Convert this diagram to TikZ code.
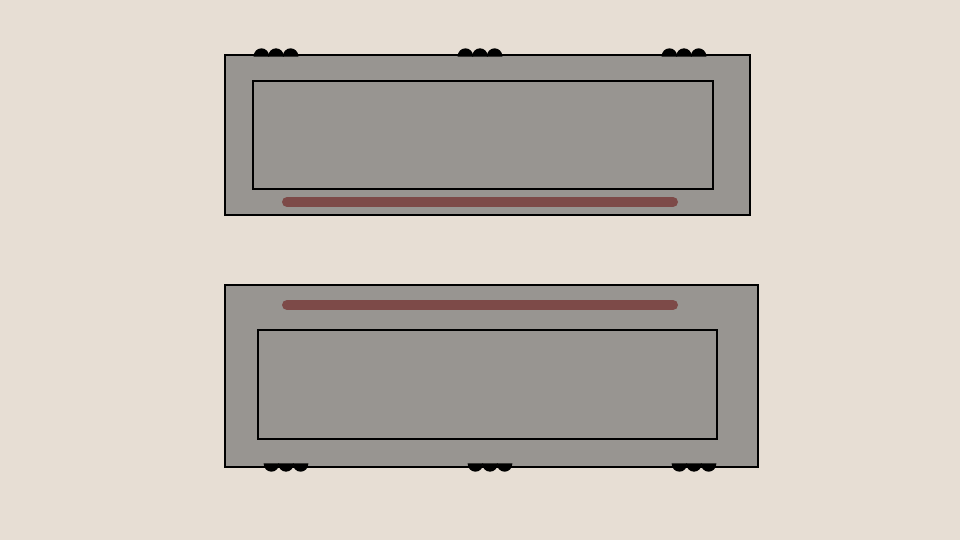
\documentclass[tikz,border=0pt]{standalone}
\usepackage{tikz}
\definecolor{bgcol}{HTML}{E7DED4}
\definecolor{trayfill}{HTML}{989591}
\definecolor{barred}{HTML}{7D4A48}
\tikzset{
  tray/.style={draw=black, fill=trayfill, line width=1.5pt},
  well/.style={draw=black, line width=1.5pt},
  bar/.style={draw=barred, line width=7.5pt, line cap=round},
  bump/.style={fill=black, draw=black, line width=1pt}
}
% three little half discs in a row
\newcommand{\bumprow}[3]{%
  \foreach \d in {-14.6,0,14.6} {
    \filldraw[bump] (#1+\d-7,#2) arc[start angle=180, end angle=#3, radius=7] -- cycle;
  }%
}

\begin{document}
\begin{tikzpicture}[x=0.75pt,y=0.75pt]
    \useasboundingbox[fill=bgcol] (0,0) rectangle (960,540);
    % upper tray
    \draw[tray] (225,485) rectangle (750,325);
    \draw[well] (253,459) rectangle (713,351);
    \draw[bar] (287,338) -- (673,338);
    \foreach \cx in {276,480,684} {
      \bumprow{\cx}{484}{0}
    }
    % lower tray
    \draw[tray] (225,255) rectangle (758,73);
    \draw[well] (258,210) rectangle (717,101);
    \draw[bar] (287,235) -- (673,235);
    \foreach \cx in {286,490,694} {
      \bumprow{\cx}{76}{360}
    }
\end{tikzpicture}
\end{document}
